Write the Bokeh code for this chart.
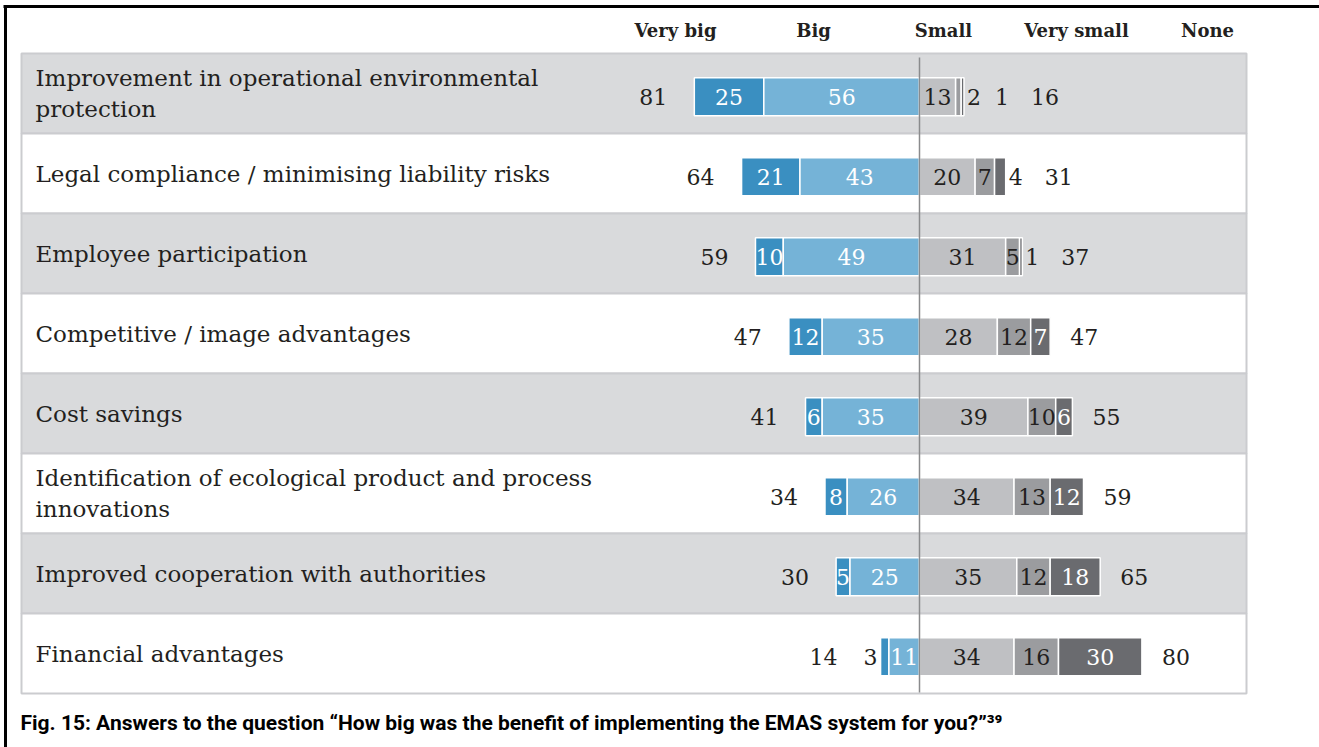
from bokeh.plotting import figure
from bokeh.models import Range1d
from bokeh.core.properties import value
from bokeh.embed import file_html
from bokeh.resources import INLINE

# ---------------- data ----------------
categories = [
    "Improvement in operational environmental\nprotection",
    "Legal compliance / minimising liability risks",
    "Employee participation",
    "Competitive / image advantages",
    "Cost savings",
    "Identification of ecological product and process\ninnovations",
    "Improved cooperation with authorities",
    "Financial advantages",
]
very_big = [25, 21, 10, 12, 6, 8, 5, 3]
big = [56, 43, 49, 35, 35, 26, 25, 11]
small = [13, 20, 31, 28, 39, 34, 35, 34]
very_small = [2, 7, 5, 12, 10, 13, 12, 16]
none_ = [1, 4, 1, 7, 6, 12, 18, 30]
header_labels = ["Very big", "Big", "Small", "Very small", "None"]
caption = ("Fig. 15: Answers to the question \u201cHow big was the benefit of "
           "implementing the EMAS system for you?\u201d\u00b3\u2079")

# ---------------- layout ----------------
W, H = 1319, 747
X0 = 919.0      # px of zero line
SC = 2.78       # px per percentage point
Y0 = 93.0       # px of first row centre
RH = 80.0       # px per row

def dx(px):
    return (px - X0) / SC

def dy(py):
    return (py - Y0) / RH

SERIF = "DejaVu Serif"
SANS = "Roboto"
DARK = "#231f20"
C_VB, C_B, C_S, C_VS, C_N = "#3a8fc1", "#75b3d7", "#bfc0c3", "#9b9c9f", "#6a6b6f"
BAND = "#d9dadc"
BORDER = "#cbcccf"

p = figure(width=W, height=H, output_backend="svg", toolbar_location=None,
           x_range=Range1d(dx(0), dx(W)), y_range=Range1d(dy(H), dy(0)),
           min_border=0, background_fill_color="white", border_fill_color="white")
p.axis.visible = False
p.grid.visible = False
p.outline_line_color = None

n = len(categories)
rows = list(range(n))

# frame
p.segment(x0=[dx(3), dx(5)], y0=[dy(6), dy(5)], x1=[dx(W), dx(5)], y1=[dy(6), dy(H)],
          line_color="black", line_width=3)

# table bands
band_fill = [BAND if i % 2 == 0 else "white" for i in rows]
p.quad(left=dx(21), right=dx(1246), top=[i - 0.5 for i in rows],
       bottom=[i + 0.5 for i in rows], fill_color=band_fill,
       line_color=BORDER, line_width=2)

# bars
yb = [i + 0.04 for i in rows]
bh = 38 / RH
segs = []
for i in rows:
    segs.append(dict(
        vb=(-(very_big[i] + big[i]), -big[i]),
        b=(-big[i], 0),
        s=(0, small[i]),
        vs=(small[i], small[i] + very_small[i]),
        nn=(small[i] + very_small[i], small[i] + very_small[i] + none_[i]),
    ))
colors = dict(vb=C_VB, b=C_B, s=C_S, vs=C_VS, nn=C_N)
txtcol = dict(vb="white", b="white", s=DARK, vs=DARK, nn="white")
vals = dict(vb=very_big, b=big, s=small, vs=very_small, nn=none_)
for k in ["vb", "b", "s", "vs", "nn"]:
    p.hbar(y=yb, height=bh, left=[segs[i][k][0] for i in rows],
           right=[segs[i][k][1] for i in rows], fill_color=colors[k],
           line_color="white", line_width=1.5)

# segment labels
in_x, in_y, in_t, in_c = [], [], [], []
out_r_x, out_r_y, out_r_t = [], [], []
out_l_x, out_l_y, out_l_t = [], [], []
tot_l_x, tot_l_y, tot_l_t = [], [], []
tot_r_x, tot_r_y, tot_r_t = [], [], []
for i in rows:
    # right side
    cursor = segs[i]["nn"][1] + 3 / SC
    had_out = False
    for k in ["s", "vs", "nn"]:
        v = vals[k][i]
        a, b = segs[i][k]
        if v >= 5:
            in_x.append((a + b) / 2); in_y.append(yb[i]); in_t.append(str(v)); in_c.append(txtcol[k])
        else:
            out_r_x.append(cursor); out_r_y.append(yb[i]); out_r_t.append(str(v))
            cursor += 28 / SC
            had_out = True
    tot_r_x.append(cursor + (8 / SC if had_out else 17 / SC))
    tot_r_y.append(yb[i])
    tot_r_t.append(str(small[i] + very_small[i] + none_[i]))
    # left side
    cursor = segs[i]["vb"][0] - 3 / SC
    for k in ["b", "vb"]:
        v = vals[k][i]
        a, b = segs[i][k]
        if v >= 5:
            in_x.append((a + b) / 2); in_y.append(yb[i]); in_t.append(str(v)); in_c.append(txtcol[k])
        else:
            out_l_x.append(cursor); out_l_y.append(yb[i]); out_l_t.append(str(v))
            cursor -= 16 / SC
    tot_l_x.append(cursor - 24 / SC)
    tot_l_y.append(yb[i])
    tot_l_t.append(str(very_big[i] + big[i]))

NUM_SIZE = "22px"
p.text(x=in_x, y=in_y, text=in_t, text_color=in_c, text_align="center",
       text_baseline="middle", text_font=value(SERIF), text_font_size=NUM_SIZE)
p.text(x=out_r_x, y=out_r_y, text=out_r_t, text_color=DARK, text_align="left",
       text_baseline="middle", text_font=value(SERIF), text_font_size=NUM_SIZE)
p.text(x=out_l_x, y=out_l_y, text=out_l_t, text_color=DARK, text_align="right",
       text_baseline="middle", text_font=value(SERIF), text_font_size=NUM_SIZE)
p.text(x=tot_r_x, y=tot_r_y, text=tot_r_t, text_color=DARK, text_align="left",
       text_baseline="middle", text_font=value(SERIF), text_font_size=NUM_SIZE)
p.text(x=tot_l_x, y=tot_l_y, text=tot_l_t, text_color=DARK, text_align="right",
       text_baseline="middle", text_font=value(SERIF), text_font_size=NUM_SIZE)

# zero line
p.segment(x0=[0], y0=[dy(57)], x1=[0], y1=[dy(692)], line_color="#8a8b8d", line_width=1.5)

# row labels
p.text(x=[dx(35)] * n, y=rows, text=categories, text_color=DARK, text_align="left",
       text_baseline="middle", text_font=value(SERIF), text_font_size="23px",
       text_line_height=1.2)

# header
header_px = [675, 813, 943, 1076, 1207]
p.text(x=[dx(h) for h in header_px], y=[dy(30)] * 5, text=header_labels,
       text_color=DARK, text_align="center", text_baseline="middle",
       text_font=value(SERIF), text_font_size="18px", text_font_style="bold")

# caption
p.text(x=[dx(20)], y=[dy(722)], text=[caption], text_color="black",
       text_align="left", text_baseline="middle", text_font=value(SANS),
       text_font_size="21px", text_font_style="bold")

open("out.html", "w").write(file_html(p, INLINE))
